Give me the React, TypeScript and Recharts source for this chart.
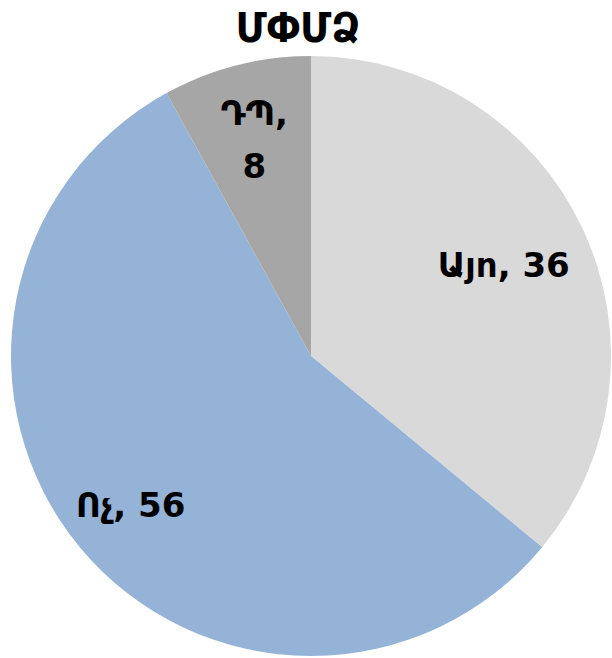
import React from 'react';
import { PieChart, Pie, Cell } from 'recharts';

const categories = ['Այո', 'Ոչ', 'ԴՊ'];
const values = [36, 56, 8];
const colors = ['#D9D9D9', '#95B3D7', '#A6A6A6'];
const title = 'ՄՓՄՁ';

const data = categories.map((name, i) => ({ name, value: values[i] }));

const RADIAN = Math.PI / 180;
// best-fit style label distance from centre, per slice
const labelRadius = [0.71, 0.78, 0.76];

const renderLabel = (props: any) => {
  const { cx, cy, midAngle, outerRadius, name, value, percent, index } = props;
  const r = outerRadius * labelRadius[index];
  const x = cx + r * Math.cos(-midAngle * RADIAN);
  const y = cy + r * Math.sin(-midAngle * RADIAN);
  const style = { fontFamily: '"DejaVu Sans", sans-serif', fontWeight: 'bold', fontSize: 34, fill: '#000' };
  // narrow slice: wrap the value onto its own line
  if (percent < 0.1) {
    return (
      <text x={x} y={y} textAnchor="middle" style={style}>
        <tspan x={x} y={y - 10}>{`${name},`}</tspan>
        <tspan x={x} y={y + 43}>{value}</tspan>
      </text>
    );
  }
  return (
    <text x={x} y={y} textAnchor="middle" dominantBaseline="central" style={style}>
      {`${name}, ${value}`}
    </text>
  );
};

const App = () => {
  return (
    <div style={{ position: 'absolute', left: 0, top: 0, width: 612, height: 658, background: '#fff' }}>
      <div
        style={{
          position: 'absolute',
          left: 0,
          top: 4,
          width: 596,
          textAlign: 'center',
          fontFamily: '"DejaVu Sans", sans-serif',
          fontWeight: 'bold',
          fontSize: 40,
          lineHeight: '48px',
          color: '#000',
        }}
      >
        {title}
      </div>
      <PieChart width={612} height={658} margin={{ top: 0, right: 0, bottom: 0, left: 0 }}>
        <Pie
          data={data}
          dataKey="value"
          nameKey="name"
          cx={311}
          cy={356}
          outerRadius={300}
          startAngle={90}
          endAngle={-270}
          stroke="none"
          label={renderLabel}
          labelLine={false}
          isAnimationActive={false}
        >
          {data.map((entry, index) => (
            <Cell key={`cell-${index}`} fill={colors[index]} />
          ))}
        </Pie>
      </PieChart>
    </div>
  );
};

export default App;
